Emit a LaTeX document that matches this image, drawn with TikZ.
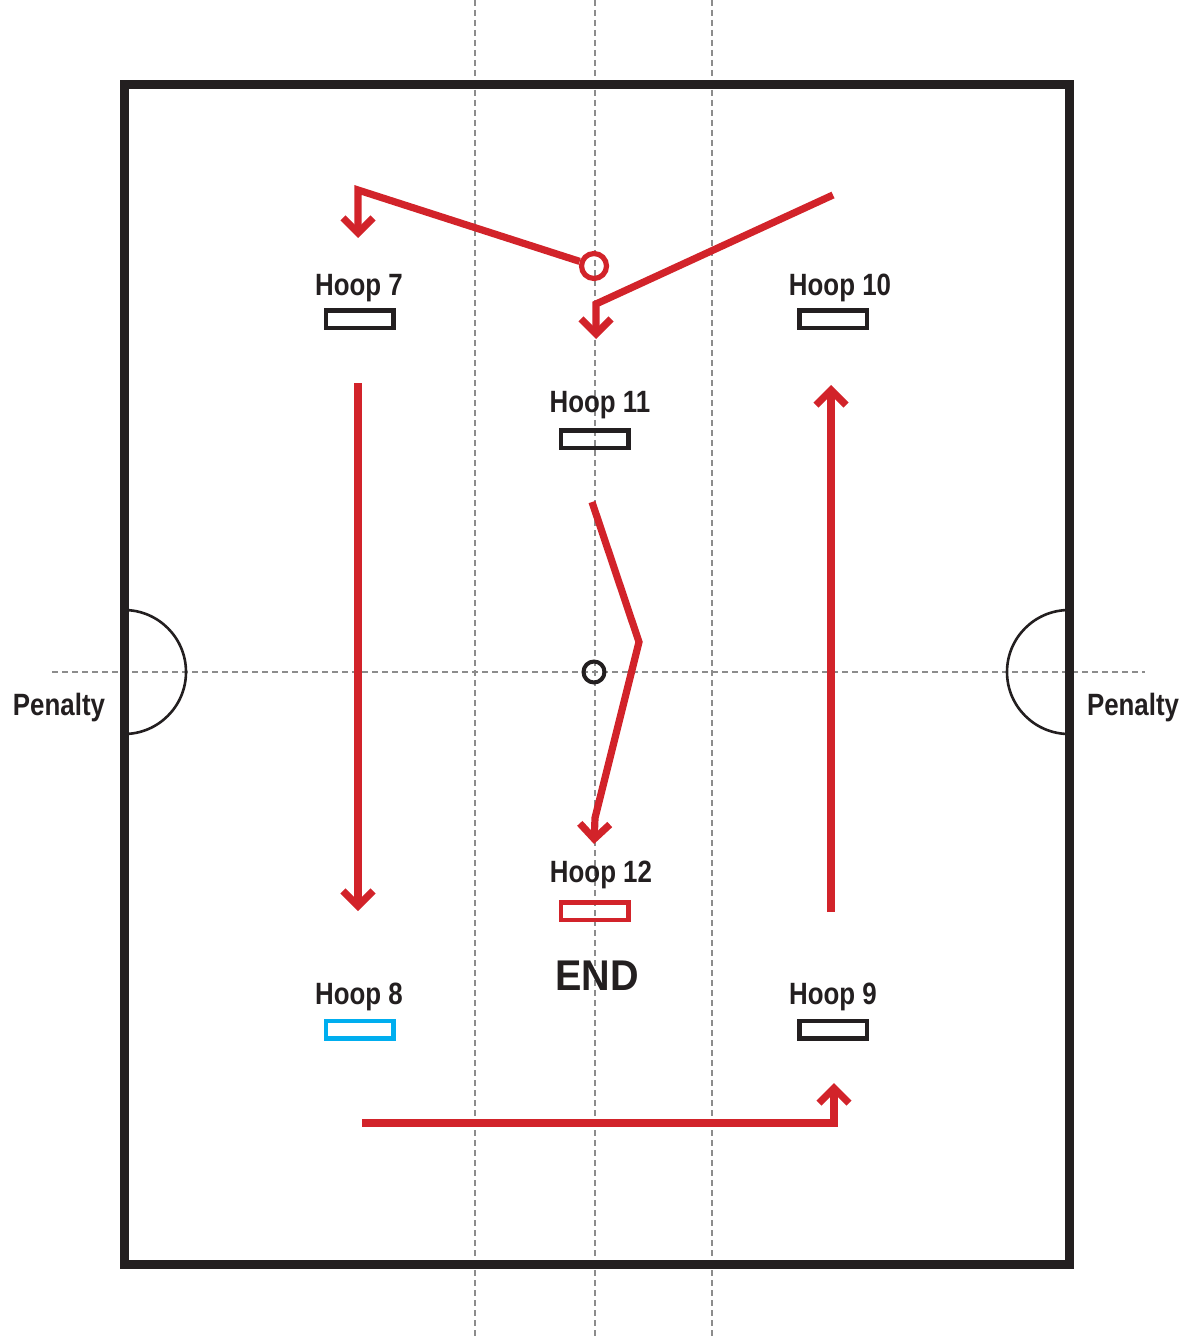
\documentclass[tikz,border=0pt]{standalone}
\usepackage{fontspec}
\setmainfont{Liberation Sans}[FakeStretch=0.84]
\newfontfamily\endfont{Liberation Sans}[FakeStretch=0.92]
\usetikzlibrary{arrows.meta}
\definecolor{pathred}{HTML}{D2232A}
\definecolor{hoopblue}{HTML}{00AEEF}
\definecolor{ink}{HTML}{231F20}
\definecolor{guide}{HTML}{8C8C8C}
\tikzset{
  hooplabel/.style={anchor=base,inner sep=0pt,text=ink,font=\fontsize{15.4}{18}\selectfont\bfseries},
  hoop/.style={draw=ink,line width=2.25pt,minimum width=33.75pt,minimum height=8.75pt,inner sep=0pt},
  route/.style={draw=pathred,line width=3.6pt},
  guideline/.style={draw=guide,line width=0.9pt,dash pattern=on 3pt off 2pt},
}
\begin{document}
\begin{tikzpicture}[x=0.5pt,y=-0.5pt,>={Straight Barb[length=7.5pt,width=15pt,sharp]}]
      \useasboundingbox (0,0) rectangle (1184,1337);
      % guide lines
      \draw[guideline] (475,0) -- (475,1337);
      \draw[guideline] (595,0) -- (595,1337);
      \draw[guideline] (712,0) -- (712,1337);
      \draw[guideline] (52,672) -- (1145,672);
      % field
      \draw[ink,line width=4.5pt] (124,85) rectangle (1069,1264);
      \draw[ink,line width=1.3pt] (124,610) arc[start angle=-90,end angle=90,radius=62];
      \draw[ink,line width=1.3pt] (1069,610) arc[start angle=-90,end angle=-270,radius=62];
      \draw
        (594,672) node[circle,draw=ink,line width=2pt,minimum size=10.5pt,inner sep=0pt] (mid){}
        (594,266) node[circle,draw=pathred,line width=2.6pt,minimum size=12.5pt,inner sep=0pt] (start){}
        (59,715) node[hooplabel] (penl){Penalty}
        (1133,715) node[hooplabel] (penr){Penalty};
      % hoops
      \draw
        (359.5,319) node[hoop] (h7){}
        (833,319) node[hoop] (h10){}
        (594.5,439) node[hoop] (h11){}
        (594.5,911) node[hoop,draw=pathred] (h12){}
        (359.5,1029.5) node[hoop,draw=hoopblue] (h8){}
        (833,1029.5) node[hoop] (h9){};
      \draw
        (359,295) node[hooplabel] (l7){Hoop 7}
        (840,295) node[hooplabel] (l10){Hoop 10}
        (600,412) node[hooplabel] (l11){Hoop 11}
        (601,882) node[hooplabel] (l12){Hoop 12}
        (597,990) node[hooplabel,font=\fontsize{21.5}{24}\endfont\bfseries] (end){END}
        (359,1004) node[hooplabel] (l8){Hoop 8}
        (833,1004) node[hooplabel] (l9){Hoop 9};
      % route points
      \coordinate (a0) at (833,195);
      \coordinate (a1) at (596,304);
      \coordinate (a2) at (596,339);
      \coordinate (b1) at (358,190);
      \coordinate (b2) at (358,238);
      \coordinate (c0) at (358,383);
      \coordinate (c1) at (358,911);
      \coordinate (d0) at (362,1123);
      \coordinate (d1) at (834,1123);
      \coordinate (d2) at (834,1083);
      \coordinate (e0) at (831,912);
      \coordinate (e1) at (831,385);
      \coordinate (f0) at (592,502);
      \coordinate (f1) at (639,642);
      \coordinate (f2) at (595,818);
      \coordinate (f3) at (594,844);
      \begin{scope}[->,miter limit=10]
        \draw[route] (a0) -- (a1) -- (a2);
        \draw[route] (start) -- (b1) -- (b2);
        \draw[route] (c0) -- (c1);
        \draw[route] (d0) -- (d1) -- (d2);
        \draw[route] (e0) -- (e1);
        \draw[route] (f0) -- (f1) -- (f2) -- (f3);
      \end{scope}
    \end{tikzpicture}
\end{document}
